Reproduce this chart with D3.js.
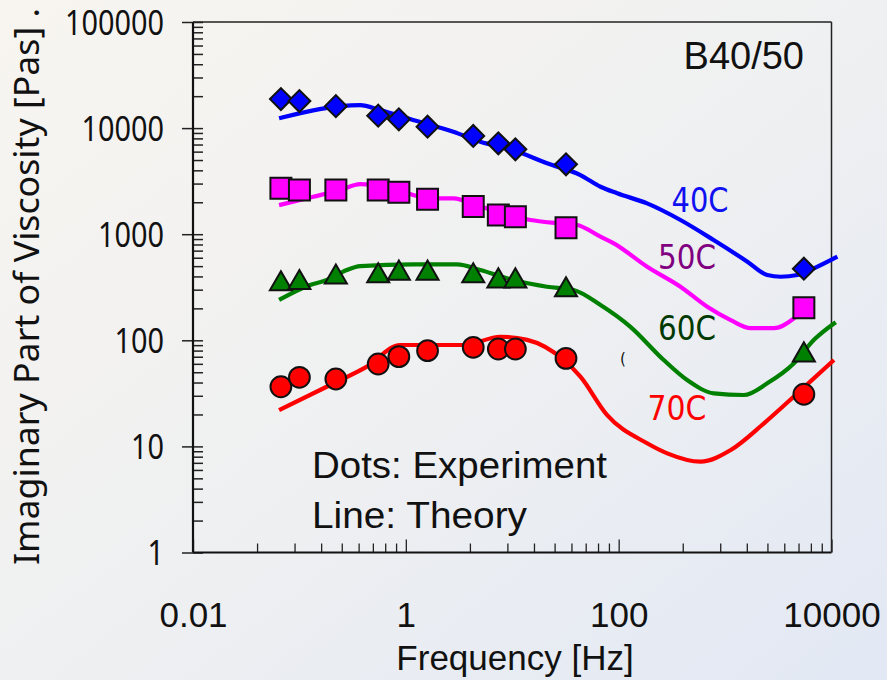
<!DOCTYPE html>
<html>
<head>
<meta charset="utf-8">
<script src="https://cdn.jsdelivr.net/npm/d3@7/dist/d3.min.js"></script>
<style>
  html, body { margin: 0; padding: 0; background: #eef0f2; }
  svg { display: block; }
</style>
</head>
<body>
<svg id="chart" width="887" height="680"></svg>
<script>
// ---- Experimental points: frequency [Hz] and imaginary viscosity [Pa s] ----
const expFreq = [0.067, 0.1, 0.22, 0.55, 0.86, 1.6, 4.3, 7.4, 10.7, 32, 5500];
const exp40 = [18800, 18000, 16100, 13100, 12100, 10300, 8430, 7190, 6310, 4560, 473];
const exp50 = [2710, 2610, 2610, 2610, 2480, 2130, 1820, 1520, 1460, 1150, 203];
const exp60 = [340, 349, 393, 404, 428, 428, 404, 362, 362, 298, 72.6];
const exp70 = [36.5, 44.8, 43.2, 59.8, 70.1, 79.9, 85.9, 82.8, 82.8, 67.6, 31.0];

// ---- Theory curves ----
const th40Freq = [0.0644, 0.372, 0.574, 1.17, 2.79, 5.01, 10.2, 21.2, 43.7, 67.5, 96.8, 185, 381, 780, 1620, 2490, 3330, 4780, 6840, 11350];
const th40 = [12370, 16500, 14800, 11900, 9250, 7440, 6220, 4660, 3610, 2800, 2430, 1950, 1360, 881, 551, 412, 397, 412, 477, 614];

const th50Freq = [0.0644, 0.135, 0.242, 0.372, 0.76, 1.17, 1.81, 2.79, 5.01, 14.8, 26.4, 40.7, 67.5, 90, 185, 381, 680, 1130, 1740, 2880, 4440, 5470];
const th50 = [1880, 2250, 2610, 2970, 2800, 2340, 2180, 2180, 1820, 1360, 1270, 1220, 947, 820, 494, 320, 207, 155, 130, 130, 161, 193];

const th60Freq = [0.0644, 0.126, 0.181, 0.279, 0.372, 1.18, 3.03, 5.01, 10.2, 21.2, 37.8, 67.5, 129, 265, 440, 785, 1500, 2490, 4440, 6840, 10960];
const th60 = [240, 332, 370, 460, 501, 520, 520, 460, 370, 320, 298, 215, 134, 65.2, 42.2, 31.6, 30.5, 39.3, 60.7, 101, 148];

const th70Freq = [0.0644, 0.195, 0.431, 0.885, 3.49, 7.73, 13.8, 30.5, 43.7, 77.6, 185, 286, 589, 1130, 2320, 4780, 10550];
const th70 = [22.0, 37.9, 56.4, 90.3, 90.3, 108, 101, 65.2, 45.4, 19.8, 10.7, 8.6, 7.18, 9.25, 16.5, 31.6, 65.2];

// ---- Axis ticks and labels ----
const xMajorTicks = [0.01, 1, 100, 10000];
const xTickLabels = ["0.01", "1", "100", "10000"];
const yMajorTicks = [1, 10, 100, 1000, 10000, 100000];
const yTickLabels = ["1", "10", "100", "1000", "10000", "100000"];
const seriesNames = ["40C", "50C", "60C", "70C"];

(function draw() {
  const svg = d3.select("#chart");
  const W = 887, H = 680;
  const pLeft = 193, pRight = 831.5, pTop = 22, pBottom = 552.5;

  // background wash
  const defs = svg.append("defs");
  const grad = defs.append("linearGradient").attr("id", "bg")
    .attr("x1", 0).attr("y1", 0).attr("x2", 1).attr("y2", 1);
  grad.append("stop").attr("offset", "0%").attr("stop-color", "#f8f5f0");
  grad.append("stop").attr("offset", "50%").attr("stop-color", "#eff0f1");
  grad.append("stop").attr("offset", "100%").attr("stop-color", "#e2e8f4");
  svg.append("rect").attr("width", W).attr("height", H).attr("fill", "url(#bg)");

  const x = d3.scaleLog().domain([0.01, 10000]).range([pLeft, pRight]);
  const y = d3.scaleLog().domain([1, 100000]).range([pBottom, pTop]);

  // minor ticks: y per decade at 2..9, x per 100x interval at k^2
  const yMinor = [];
  for (let e = 0; e < 5; e++) for (let k = 2; k <= 9; k++) yMinor.push(k * Math.pow(10, e));
  const xMinor = [];
  [0.01, 1, 100].forEach(b => { for (let k = 2; k <= 9; k++) xMinor.push(b * k * k); });

  function styleTicks(g, w) {
    g.select(".domain").remove();
    g.selectAll(".tick line").attr("stroke", "#222").attr("stroke-width", w);
  }

  // y axis: outer major ticks with labels
  const yLab = svg.append("g").attr("transform", `translate(${pLeft},0)`)
    .call(d3.axisLeft(y).tickValues(yMajorTicks).tickSize(11).tickPadding(18)
      .tickFormat((d, i) => yTickLabels[i]));
  styleTicks(yLab, 1.5);
  yLab.selectAll(".tick text")
    .attr("fill", "#111")
    .style("font-family", "'Noto Sans', 'Open Sans', sans-serif")
    .style("font-size", "34px")
    .attr("dy", "0.36em")
    .attr("textLength", (d, i) => yTickLabels[i].length * 16.5)
    .attr("lengthAdjust", "spacingAndGlyphs");

  // y axis: inner ticks (major + minor)
  const yIn = svg.append("g").attr("transform", `translate(${pLeft},0)`)
    .call(d3.axisRight(y).tickValues(yMajorTicks.concat(yMinor)).tickSize(10).tickFormat(""));
  styleTicks(yIn, 1.5);

  // x axis: inner ticks pointing up
  const xInMaj = svg.append("g").attr("transform", `translate(0,${pBottom})`)
    .call(d3.axisTop(x).tickValues(xMajorTicks).tickSize(13).tickFormat(""));
  styleTicks(xInMaj, 1.3);
  const xInMin = svg.append("g").attr("transform", `translate(0,${pBottom})`)
    .call(d3.axisTop(x).tickValues(xMinor).tickSize(9).tickFormat(""));
  styleTicks(xInMin, 1.3);

  // x labels
  const xLab = svg.append("g").attr("transform", `translate(0,${pBottom})`)
    .call(d3.axisBottom(x).tickValues(xMajorTicks).tickSize(0).tickPadding(50)
      .tickFormat((d, i) => xTickLabels[i]));
  xLab.select(".domain").remove();
  xLab.selectAll(".tick text")
    .attr("fill", "#111")
    .style("font-family", "'Liberation Sans', Arial, sans-serif")
    .style("font-size", "35px");

  // frame
  svg.append("line").attr("x1", pLeft).attr("x2", pLeft).attr("y1", pTop).attr("y2", pBottom)
    .attr("stroke", "#111").attr("stroke-width", 2.2);
  svg.append("line").attr("x1", pLeft).attr("x2", pRight).attr("y1", pBottom).attr("y2", pBottom)
    .attr("stroke", "#111").attr("stroke-width", 2.2);
  svg.append("line").attr("x1", pLeft).attr("x2", pRight).attr("y1", pTop).attr("y2", pTop)
    .attr("stroke", "#222").attr("stroke-width", 1.5);
  svg.append("line").attr("x1", pRight).attr("x2", pRight).attr("y1", pTop).attr("y2", pBottom)
    .attr("stroke", "#222").attr("stroke-width", 1.5);

  // axis titles
  svg.append("text")
    .attr("transform", "translate(39,565) rotate(-90)")
    .attr("fill", "#111")
    .style("font-family", "'Noto Sans', 'Open Sans', sans-serif")
    .style("font-size", "34px")
    .attr("textLength", 557).attr("lengthAdjust", "spacingAndGlyphs")
    .text("Imaginary Part of Viscosity [Pas] .");

  svg.append("text")
    .attr("x", 515).attr("y", 670).attr("text-anchor", "middle")
    .attr("fill", "#111")
    .style("font-family", "'Liberation Sans', Arial, sans-serif")
    .style("font-size", "35px")
    .text("Frequency [Hz]");

  // annotations
  svg.append("text").attr("x", 804).attr("y", 69).attr("text-anchor", "end")
    .attr("fill", "#111")
    .style("font-family", "'Liberation Sans', Arial, sans-serif").style("font-size", "38px")
    .text("B40/50");
  svg.append("text").attr("x", 312).attr("y", 478)
    .attr("fill", "#111")
    .style("font-family", "'Liberation Sans', Arial, sans-serif").style("font-size", "36px")
    .attr("textLength", 295).attr("lengthAdjust", "spacingAndGlyphs")
    .text("Dots: Experiment");
  svg.append("text").attr("x", 312).attr("y", 528)
    .attr("fill", "#111")
    .style("font-family", "'Liberation Sans', Arial, sans-serif").style("font-size", "36px")
    .attr("textLength", 215).attr("lengthAdjust", "spacingAndGlyphs")
    .text("Line: Theory");
  svg.append("text").attr("x", 620).attr("y", 364)
    .attr("fill", "#111")
    .style("font-family", "'DejaVu Sans', sans-serif").style("font-size", "15px")
    .text("(");

  // theory curves
  const curves = [
    { f: th40Freq, v: th40, color: "#0000ff" },
    { f: th50Freq, v: th50, color: "#ff00ff" },
    { f: th60Freq, v: th60, color: "#008000" },
    { f: th70Freq, v: th70, color: "#ff0000" }
  ];
  const line = d3.line().x(d => x(d[0])).y(d => y(d[1])).curve(d3.curveMonotoneX);
  curves.forEach(c => {
    svg.append("path")
      .datum(c.f.map((f, i) => [f, c.v[i]]))
      .attr("d", line)
      .attr("fill", "none")
      .attr("stroke", c.color)
      .attr("stroke-width", 4.2)
      .attr("stroke-linejoin", "round");
  });

  // curve labels
  const labelStyle = [
    { fx: 700, fy: 212, color: "#1010f0", len: 57 },
    { fx: 687, fy: 269, color: "#800080", len: 58 },
    { fx: 687, fy: 340, color: "#003a00", len: 58 },
    { fx: 677, fy: 420, color: "#ff0000", len: 59 }
  ];
  seriesNames.forEach((name, i) => {
    const s = labelStyle[i];
    svg.append("text").attr("x", s.fx).attr("y", s.fy).attr("text-anchor", "middle")
      .attr("fill", s.color)
      .style("font-family", "'DejaVu Sans Condensed', 'DejaVu Sans', sans-serif")
      .style("font-size", "33px")
      .attr("textLength", s.len).attr("lengthAdjust", "spacingAndGlyphs")
      .text(name);
  });

  // experimental markers
  const markerSets = [
    { v: exp40, type: d3.symbolSquare, size: 240, fill: "#0000ff", rot: 45 },
    { v: exp50, type: d3.symbolSquare, size: 440, fill: "#ff00ff", rot: 0 },
    { v: exp60, type: d3.symbolTriangle, size: 210, fill: "#008000", rot: 0 },
    { v: exp70, type: d3.symbolCircle, size: 340, fill: "#ff0000", rot: 0 }
  ];
  markerSets.forEach(m => {
    const g = svg.append("g");
    g.selectAll("path").data(expFreq.map((f, i) => [f, m.v[i]])).join("path")
      .attr("transform", d => `translate(${x(d[0])},${y(d[1])}) rotate(${m.rot})`)
      .attr("d", d3.symbol(m.type, m.size)())
      .attr("fill", m.fill)
      .attr("stroke", "#111")
      .attr("stroke-width", 2);
  });
})();
</script>
</body>
</html>
